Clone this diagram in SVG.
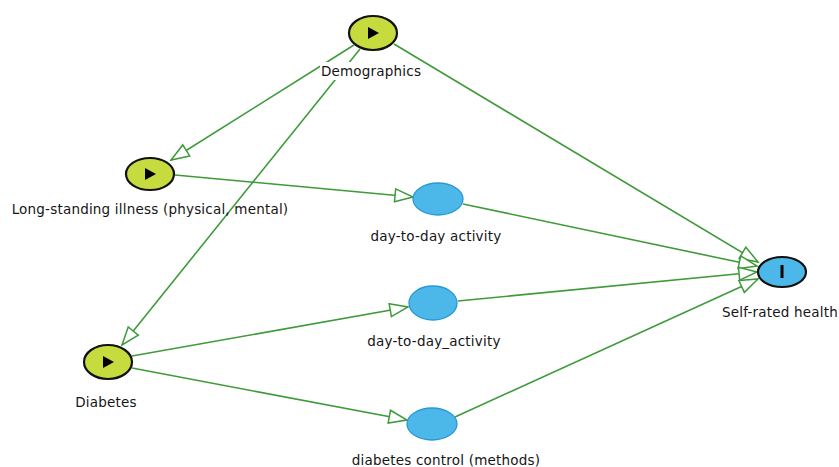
<svg xmlns="http://www.w3.org/2000/svg" width="839" height="467" viewBox="0 0 839 467">
<style>
.edge{stroke:#3f9a3a;stroke-width:1.6;fill:none;marker-end:url(#arr)}
.chance{fill:#c6dc3e;stroke:#111;stroke-width:2.2}
.mid{fill:#4cb8ea;stroke:#2a98d2;stroke-width:1.3}
.util{fill:#4cb8ea;stroke:#111;stroke-width:2.2}
.lbl{font-family:"DejaVu Sans",sans-serif;font-size:13.5px;letter-spacing:0.2px;fill:#151515;text-anchor:middle}
.icon{fill:#000}
</style>
<defs>
<marker id="arr" markerUnits="userSpaceOnUse" markerWidth="22" markerHeight="16" refX="19" refY="7.5" orient="auto" overflow="visible">
<path d="M1,1 L19,7.5 L1,14 Z" fill="#fff" stroke="#3f9a3a" stroke-width="1.5" stroke-linejoin="miter"/>
</marker>
</defs>
<rect width="839" height="467" fill="#fff"/>
<g id="connectors">
<line class="edge" x1="354" y1="45" x2="171" y2="160"/>
<line class="edge" x1="360" y1="49" x2="122" y2="345"/>
<line class="edge" x1="394" y1="44" x2="758" y2="262"/>
<line class="edge" x1="175" y1="175" x2="413" y2="197"/>
<line class="edge" x1="463" y1="204" x2="757" y2="266"/>
<line class="edge" x1="132" y1="356" x2="408" y2="307"/>
<line class="edge" x1="458" y1="301" x2="757" y2="272"/>
<line class="edge" x1="132" y1="368" x2="407" y2="420"/>
<line class="edge" x1="455" y1="417" x2="758" y2="279"/>
</g>
<g id="demographics">
<ellipse class="chance" cx="373" cy="33" rx="24" ry="17"/>
<path class="icon" d="M368,27 L379,33 L368,39 Z"/>
<rect x="320" y="62" width="102" height="18" fill="#fff"/>
<text class="lbl" x="371" y="76">Demographics</text>
</g>
<g id="longstanding">
<ellipse class="chance" cx="150" cy="174" rx="24" ry="16"/>
<path class="icon" d="M145,168 L156,174 L145,180 Z"/>
<text class="lbl" x="150" y="214">Long-standing illness (physical, mental)</text>
</g>
<g id="diabetes">
<ellipse class="chance" cx="108" cy="362" rx="24" ry="17"/>
<path class="icon" d="M103,356 L114,362 L103,368 Z"/>
<text class="lbl" x="106" y="407">Diabetes</text>
</g>
<g id="activity1">
<ellipse class="mid" cx="438" cy="199" rx="25" ry="16"/>
<text class="lbl" x="436" y="241">day-to-day activity</text>
</g>
<g id="activity2">
<ellipse class="mid" cx="433" cy="303" rx="24" ry="17"/>
<text class="lbl" x="434" y="346">day-to-day_activity</text>
</g>
<g id="control">
<ellipse class="mid" cx="432" cy="424" rx="25" ry="16"/>
<text class="lbl" x="446" y="465">diabetes control (methods)</text>
</g>
<g id="selfrated">
<ellipse class="util" cx="782" cy="272" rx="24" ry="15"/>
<rect class="icon" x="780.5" y="265" width="3" height="13"/>
<text class="lbl" x="780" y="317">Self-rated health</text>
</g>
</svg>
